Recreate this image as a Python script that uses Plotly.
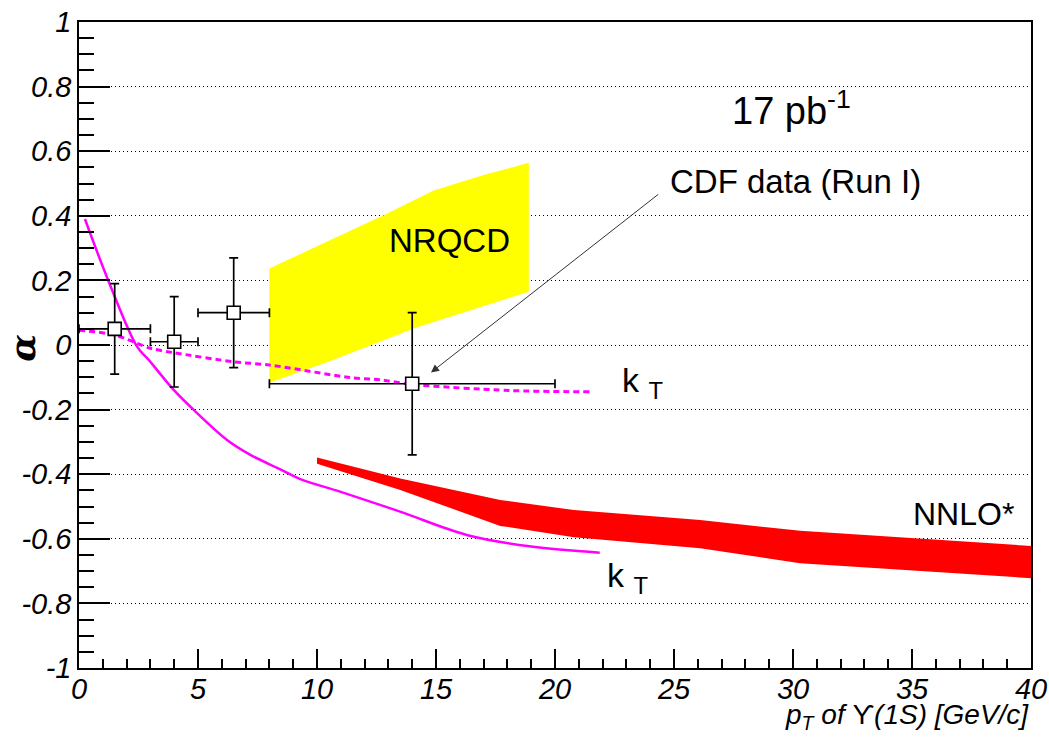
import plotly.graph_objects as go

# CDF Run I measurement of the Upsilon(1S) polarisation parameter alpha
pt_data = [1.5, 4.0, 6.5, 14.0]
alpha_data = [0.05, 0.01, 0.10, -0.12]
pt_halfwidth = [1.5, 1.0, 1.5, 6.0]
alpha_err = [0.14, 0.14, 0.17, 0.22]

# NRQCD prediction band
nrqcd_pt_upper = [8.0, 12.8, 14.9, 17.0, 18.9]
nrqcd_upper = [0.237, 0.402, 0.478, 0.526, 0.564]
nrqcd_pt_lower = [8.0, 10.7, 14.2, 18.9]
nrqcd_lower = [-0.117, -0.046, 0.055, 0.165]

# NNLO* prediction band
nnlo_pt = [10.0, 13.5, 17.7, 20.8, 26.1, 30.3, 40.0]
nnlo_upper = [-0.348, -0.413, -0.480, -0.511, -0.542, -0.575, -0.622]
nnlo_lower = [-0.368, -0.449, -0.560, -0.595, -0.629, -0.676, -0.722]

# kT-factorisation curves
kt_solid_pt = [0.25, 1.25, 2.44, 2.93, 3.98, 4.82, 6.22, 7.2, 8.46, 9.3, 10.97, 13.49, 16.29, 19.0, 21.88]
kt_solid = [0.39, 0.196, -0.005, -0.046, -0.139, -0.201, -0.294, -0.34, -0.385, -0.415, -0.454, -0.516, -0.588, -0.624, -0.643]
kt_dash_pt = [0.0, 1.5, 3.0, 4.0, 6.5, 8.0, 11.4, 12.65, 14.0, 18.1, 21.5]
kt_dash = [0.046, 0.031, -0.01, -0.024, -0.052, -0.062, -0.101, -0.108, -0.122, -0.141, -0.145]

# axis ticks
x_tickvals = [0, 5, 10, 15, 20, 25, 30, 35, 40]
x_ticktext = ["0", "5", "10", "15", "20", "25", "30", "35", "40"]
y_tickvals = [1, 0.8, 0.6, 0.4, 0.2, 0, -0.2, -0.4, -0.6, -0.8, -1]
y_ticktext = ["1", "0.8", "0.6", "0.4", "0.2", "0", "-0.2", "-0.4", "-0.6", "-0.8", "-1"]

FONT = "Liberation Sans, Arial, sans-serif"

fig = go.Figure()

# NRQCD band (yellow)
fig.add_trace(go.Scatter(
    x=nrqcd_pt_upper + nrqcd_pt_lower[::-1],
    y=nrqcd_upper + nrqcd_lower[::-1],
    fill="toself", fillcolor="#FFFF00", mode="none",
    hoverinfo="skip", showlegend=False,
))

# NNLO* band (red)
fig.add_trace(go.Scatter(
    x=nnlo_pt + nnlo_pt[::-1],
    y=nnlo_upper + nnlo_lower[::-1],
    fill="toself", fillcolor="#FF0000", mode="none",
    hoverinfo="skip", showlegend=False,
))

# kT curves
fig.add_trace(go.Scatter(
    x=kt_solid_pt, y=kt_solid, mode="lines",
    line=dict(color="#FF00FF", width=2.5, shape="spline", smoothing=1.0),
    showlegend=False,
))
fig.add_trace(go.Scatter(
    x=kt_dash_pt, y=kt_dash, mode="lines",
    line=dict(color="#FF00FF", width=3, dash="6px,4px", shape="spline", smoothing=0.8),
    showlegend=False,
))

# CDF data points
fig.add_trace(go.Scatter(
    x=pt_data, y=alpha_data, mode="markers",
    marker=dict(symbol="square", size=13, color="white",
                line=dict(color="black", width=1.6)),
    error_x=dict(type="data", array=pt_halfwidth, color="black", thickness=1.7, width=4.5),
    error_y=dict(type="data", array=alpha_err, color="black", thickness=1.7, width=4.5),
    showlegend=False,
))

text_font = dict(family=FONT, color="black")
annotations = [
    dict(x=27.35, y=0.735, xref="x", yref="y", xanchor="left", yanchor="middle",
         text="17 pb<sup>-1</sup>", showarrow=False, font=dict(size=38, **text_font)),
    dict(x=24.75, y=0.505, xref="x", yref="y", xanchor="left", yanchor="middle",
         text="CDF data (Run I)", showarrow=False, font=dict(size=33, **text_font)),
    dict(x=15.56, y=0.322, xref="x", yref="y", xanchor="center", yanchor="middle",
         text="NRQCD", showarrow=False, font=dict(size=33, **text_font)),
    dict(x=22.74, y=-0.115, xref="x", yref="y", xanchor="left", yanchor="middle",
         text="k <sub>T</sub>", showarrow=False, font=dict(size=34, **text_font)),
    dict(x=22.1, y=-0.72, xref="x", yref="y", xanchor="left", yanchor="middle",
         text="k <sub>T</sub>", showarrow=False, font=dict(size=34, **text_font)),
    dict(x=34.95, y=-0.523, xref="x", yref="y", xanchor="left", yanchor="middle",
         text="NNLO*", showarrow=False, font=dict(size=32, **text_font)),
    # arrow pointing at the high-pT data point
    dict(x=14.79, y=-0.085, xref="x", yref="y", ax=24.4, ay=0.47, axref="x", ayref="y",
         text="", showarrow=True, arrowhead=2, arrowsize=1.6, arrowwidth=1,
         arrowcolor="#333333"),
    # y-axis title
    dict(x=-0.0593, y=0.495, xref="paper", yref="paper", xanchor="center", yanchor="middle",
         text="<b><i>α</i></b>", textangle=-90, showarrow=False,
         font=dict(size=36, family="DejaVu Serif, serif", color="black")),
    # x-axis title, anchored on its bottom edge so it stays inside the page
    dict(x=1.0, y=-0.1055, xref="paper", yref="paper", xanchor="right", yanchor="bottom",
         text="<i>p<sub>T</sub> of </i>ϒ<i>(1S) [GeV/c]</i>", showarrow=False,
         font=dict(size=28, **text_font)),
]

fig.update_layout(
    width=1049, height=739,
    margin=dict(l=78.5, r=18, t=22, b=71),
    paper_bgcolor="white", plot_bgcolor="white",
    annotations=annotations,
    showlegend=False,
)

fig.update_xaxes(
    range=[0, 40], tickvals=x_tickvals, ticktext=x_ticktext, automargin=False,
    ticks="inside", ticklen=19, tickwidth=1.5, tickcolor="black", ticklabelstandoff=-6,
    minor=dict(ticks="inside", ticklen=9, tickwidth=1.5, tickcolor="black", dtick=1, showgrid=False),
    showgrid=False, zeroline=False,
    showline=True, linecolor="black", linewidth=1.5, mirror=True,
    tickfont=dict(family=FONT, size=29, color="black", style="italic"),
)
fig.update_yaxes(
    range=[-1, 1], tickvals=y_tickvals, ticktext=y_ticktext, automargin=False,
    ticks="inside", ticklen=31, tickwidth=1.5, tickcolor="black",
    minor=dict(ticks="inside", ticklen=15, tickwidth=1.5, tickcolor="black", dtick=0.05, showgrid=False),
    showgrid=True, gridcolor="black", gridwidth=1, griddash="1px,3px",
    zeroline=False,
    showline=True, linecolor="black", linewidth=1.5, mirror=True,
    tickfont=dict(family=FONT, size=29, color="black", style="italic"),
)

fig.write_html("out.html")
